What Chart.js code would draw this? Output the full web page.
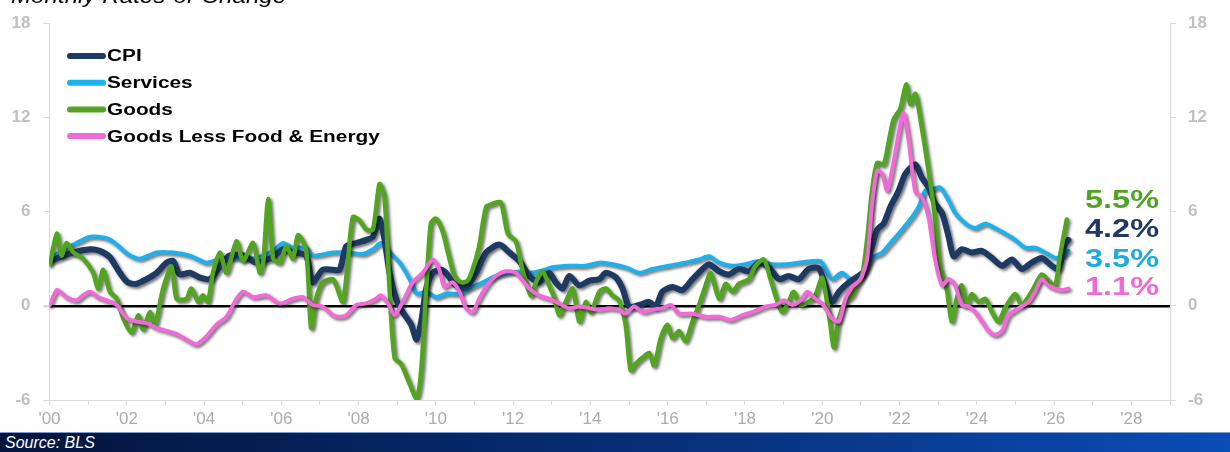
<!DOCTYPE html>
<html>
<head>
<meta charset="utf-8">
<title>CPI Monthly Rates-of-Change</title>
<script src="https://cdn.jsdelivr.net/npm/chart.js@4.4.1/dist/chart.umd.min.js"></script>
<style>
  html, body { margin: 0; padding: 0; background: #fff; overflow: hidden; }
  #wrap { position: relative; width: 1230px; height: 432px; }
  .footer {
    width: 1230px; height: 20px;
    border-top: 1px solid #7d9bcc;
    background: linear-gradient(to right, #04143b 0%, #07307a 55%, #0a4db6 100%);
    color: #fff;
    font: italic 16px "Liberation Sans", Arial, sans-serif;
    line-height: 19px;
    padding-left: 5px;
    box-sizing: border-box;
  }
</style>
</head>
<body>
<div id="wrap"><canvas id="chart"></canvas></div>
<div class="footer">Source: BLS</div>
<script>
document.addEventListener("DOMContentLoaded", function () {
  // Values (decimal years, % change)
  var cpiDates = [
    2000.01, 2000.62, 2001.05, 2001.30, 2001.56, 2001.82, 2002.02, 2002.25, 2002.51, 2002.77,
    2003.03, 2003.20, 2003.37, 2003.63, 2003.89, 2004.15, 2004.41, 2004.66, 2005.03, 2005.35,
    2005.78, 2006.04, 2006.30, 2006.64, 2006.81, 2007.07, 2007.33, 2007.51, 2007.68, 2007.94,
    2008.20, 2008.37, 2008.54, 2008.67, 2008.80, 2008.97, 2009.14, 2009.36, 2009.50, 2009.62,
    2009.75, 2009.92, 2010.13, 2010.26, 2010.52, 2010.78, 2011.04, 2011.30, 2011.64, 2011.90,
    2012.16, 2012.42, 2012.67, 2012.93, 2013.10, 2013.28, 2013.45, 2013.71, 2013.97, 2014.23,
    2014.40, 2014.66, 2014.83, 2015.00, 2015.26, 2015.52, 2015.69, 2015.86, 2016.12, 2016.38,
    2016.64, 2016.90, 2017.07, 2017.33, 2017.58, 2017.84, 2018.10, 2018.36, 2018.62, 2018.88,
    2019.13, 2019.39, 2019.65, 2019.91, 2020.08, 2020.25, 2020.43, 2020.69, 2020.94, 2021.12,
    2021.29, 2021.42, 2021.59, 2021.76, 2021.98, 2022.15, 2022.41, 2022.58, 2022.75, 2022.92,
    2023.10, 2023.27, 2023.40, 2023.61, 2023.87, 2024.13, 2024.39, 2024.65, 2024.91, 2025.16,
    2025.42, 2025.68, 2025.94, 2026.11, 2026.28, 2026.37
  ];
  var cpiValues = [
    2.85, 3.4, 3.6, 3.5, 3.1, 2.1, 1.5, 1.4, 1.7, 2.1,
    2.75, 2.85, 2.0, 2.1, 1.8, 1.7, 2.5, 3.2, 3.2, 2.75,
    3.1, 3.6, 3.4, 3.2, 1.5, 2.3, 2.3, 2.3, 3.8, 4.0,
    4.2, 4.4, 5.55, 4.2, 2.1, 0.45, -0.4, -1.2, -2.15, -1.0,
    1.1, 2.1, 2.3, 2.1, 1.3, 1.2, 2.1, 3.4, 3.9, 3.4,
    2.85, 1.9, 1.5, 2.1, 1.5, 1.1, 1.9, 1.3, 1.6, 1.7,
    2.1, 1.8, 1.1, -0.05, 0.05, 0.25, -0.05, 0.9, 1.2, 1.0,
    1.7, 2.35, 2.65, 2.2, 2.0, 2.35, 2.2, 2.75, 2.45, 1.7,
    1.9, 1.7, 2.35, 2.4, 1.3, 0.25, 0.9, 1.5, 1.9, 2.3,
    3.8, 4.85, 5.25, 6.3, 7.35, 8.4, 9.0, 8.15, 7.55, 6.5,
    5.9, 4.4, 3.15, 3.6, 3.4, 3.5, 3.05, 2.55, 2.95, 2.35,
    2.75, 3.05, 2.55, 2.35, 3.9, 4.2
  ];

  var servicesDates = [
    2000.01, 2000.62, 2001.05, 2001.48, 2001.74, 2002.02, 2002.34, 2002.77, 2003.20, 2003.63,
    2004.06, 2004.49, 2004.92, 2005.35, 2005.78, 2006.04, 2006.30, 2006.64, 2006.81, 2007.33,
    2007.76, 2008.11, 2008.37, 2008.58, 2008.80, 2009.06, 2009.32, 2009.50, 2009.75, 2010.00,
    2010.26, 2010.61, 2010.87, 2011.21, 2011.55, 2011.90, 2012.24, 2012.42, 2012.67, 2013.02,
    2013.45, 2013.88, 2014.23, 2014.57, 2014.91, 2015.26, 2015.60, 2016.03, 2016.46, 2016.81,
    2017.07, 2017.33, 2017.67, 2018.01, 2018.36, 2018.70, 2019.05, 2019.39, 2019.74, 2019.95,
    2020.08, 2020.25, 2020.51, 2020.77, 2021.03, 2021.29, 2021.55, 2021.80, 2022.06, 2022.32,
    2022.49, 2022.67, 2022.88, 2023.05, 2023.27, 2023.44, 2023.70, 2023.96, 2024.22, 2024.47,
    2024.73, 2024.99, 2025.25, 2025.51, 2025.77, 2026.03, 2026.20, 2026.37
  ];
  var servicesValues = [
    3.05, 3.9, 4.4, 4.3, 3.9, 3.3, 3.0, 3.4, 3.4, 3.2,
    2.75, 3.05, 3.0, 3.05, 3.5, 4.0, 3.7, 3.7, 3.2, 3.4,
    3.4, 3.3, 3.6, 4.0, 3.4, 2.75, 1.7, 0.77, 0.9, 0.55,
    0.77, 0.77, 1.1, 1.5, 1.9, 2.1, 2.2, 2.1, 2.2, 2.45,
    2.55, 2.55, 2.75, 2.65, 2.45, 2.1, 2.35, 2.55, 2.75, 2.95,
    3.15, 2.75, 2.55, 2.65, 2.85, 2.65, 2.65, 2.75, 2.85, 2.85,
    2.35, 1.7, 2.1, 1.6, 1.9, 3.05, 3.4, 4.1, 4.85, 5.65,
    6.3, 7.35, 7.45, 7.55, 6.7, 5.9, 5.25, 4.95, 5.25, 4.95,
    4.6, 4.2, 3.7, 3.7, 3.4, 3.05, 3.15, 3.5
  ];

  var goodsDates = [
    2000.01, 2000.19, 2000.31, 2000.44, 2000.62, 2000.87, 2001.13, 2001.26, 2001.39, 2001.56,
    2001.74, 2001.91, 2002.12, 2002.30, 2002.42, 2002.60, 2002.73, 2002.94, 2003.16, 2003.29,
    2003.54, 2003.67, 2003.85, 2003.97, 2004.10, 2004.23, 2004.41, 2004.58, 2004.84, 2005.01,
    2005.27, 2005.44, 2005.53, 2005.66, 2005.79, 2005.96, 2006.13, 2006.30, 2006.43, 2006.64,
    2006.77, 2006.90, 2007.07, 2007.33, 2007.42, 2007.59, 2007.72, 2007.85, 2008.02, 2008.20,
    2008.37, 2008.54, 2008.67, 2008.80, 2008.93, 2009.10, 2009.32, 2009.50, 2009.62, 2009.75,
    2009.87, 2010.00, 2010.18, 2010.31, 2010.48, 2010.65, 2010.82, 2010.95, 2011.12, 2011.30,
    2011.47, 2011.68, 2011.86, 2012.07, 2012.24, 2012.46, 2012.59, 2012.76, 2012.93, 2013.06,
    2013.19, 2013.36, 2013.54, 2013.71, 2013.88, 2014.01, 2014.23, 2014.40, 2014.57, 2014.74,
    2014.91, 2015.04, 2015.17, 2015.35, 2015.52, 2015.65, 2015.82, 2015.99, 2016.12, 2016.29,
    2016.46, 2016.64, 2016.81, 2016.98, 2017.11, 2017.33, 2017.50, 2017.67, 2017.84, 2018.10,
    2018.27, 2018.49, 2018.66, 2018.79, 2018.96, 2019.13, 2019.26, 2019.44, 2019.65, 2019.82,
    2019.99, 2020.08, 2020.21, 2020.30, 2020.43, 2020.60, 2020.77, 2020.90, 2021.03, 2021.16,
    2021.29, 2021.42, 2021.59, 2021.72, 2021.85, 2022.02, 2022.17, 2022.28, 2022.41, 2022.58,
    2022.75, 2022.92, 2023.05, 2023.22, 2023.35, 2023.48, 2023.61, 2023.74, 2023.87, 2024.04,
    2024.22, 2024.39, 2024.56, 2024.73, 2024.99, 2025.16, 2025.42, 2025.68, 2025.85, 2026.03,
    2026.15, 2026.33
  ];
  var goodsValues = [
    2.65, 4.6, 3.2, 4.0, 3.4, 3.0, 2.1, 1.1, 2.3, 0.9,
    0.45, -0.8, -1.7, -0.6, -1.5, -0.4, -1.2, 1.1, 2.5, 0.45,
    0.45, 1.1, 0.25, 0.67, 0.25, 2.1, 3.4, 2.1, 4.1, 2.85,
    4.0, 2.1, 2.75, 6.8, 3.0, 2.75, 3.8, 3.0, 4.5, 3.6,
    -1.4, 0.45, 1.5, 1.7, 1.3, 0.25, 2.75, 5.65, 5.45, 4.85,
    4.85, 7.75, 6.9, 1.1, -3.3, -3.7, -4.95, -5.9, -4.1, 1.1,
    5.25, 5.55, 4.7, 3.4, 1.9, 1.5, 1.6, 2.3, 3.8, 6.3,
    6.5, 6.6, 4.6, 4.1, 2.3, 0.65, 1.5, 2.2, 1.3, 0.55,
    -0.6, 0.25, 1.1, -1.0, 0.25, -0.4, 0.9, 1.1, 0.65, 0.35,
    -1.2, -4.1, -3.7, -3.3, -3.0, -3.8, -2.05, -1.2, -2.05, -1.6,
    -2.25, -1.0, 0.05, 1.3, 2.1, 0.45, 1.4, 0.9, 1.4, 1.7,
    2.55, 2.95, 1.7, 0.65, -0.4, 0.25, 0.9, 0.05, 0.25, 0.65,
    1.8, 0.9, -1.2, -2.65, -0.8, 0.25, 0.65, 1.3, 1.9, 4.2,
    7.35, 9.1, 9.0, 10.45, 11.9, 12.55, 14.1, 12.85, 13.5, 11.3,
    8.6, 5.65, 2.55, 1.1, -1.0, 0.45, 1.3, 0.05, 0.75, 0.25,
    0.45, -0.4, -1.0, -0.15, 0.75, 0.05, 0.9, 2.0, 1.6, 1.3,
    3.15, 5.5
  ];

  var coreGoodsDates = [
    2000.01, 2000.19, 2000.44, 2000.70, 2000.87, 2001.05, 2001.26, 2001.48, 2001.74, 2002.00,
    2002.25, 2002.51, 2002.77, 2003.03, 2003.29, 2003.54, 2003.80, 2004.06, 2004.32, 2004.58,
    2004.84, 2005.01, 2005.27, 2005.61, 2005.96, 2006.30, 2006.56, 2006.81, 2007.07, 2007.33,
    2007.51, 2007.68, 2007.94, 2008.20, 2008.45, 2008.58, 2008.76, 2008.93, 2009.14, 2009.40,
    2009.66, 2009.92, 2010.09, 2010.22, 2010.43, 2010.61, 2010.78, 2010.95, 2011.12, 2011.30,
    2011.55, 2011.81, 2012.07, 2012.42, 2012.67, 2012.93, 2013.19, 2013.45, 2013.71, 2013.97,
    2014.23, 2014.48, 2014.74, 2014.91, 2015.13, 2015.35, 2015.60, 2015.86, 2016.08, 2016.29,
    2016.64, 2016.98, 2017.33, 2017.63, 2017.93, 2018.19, 2018.53, 2018.79, 2019.01, 2019.22,
    2019.44, 2019.61, 2019.82, 2019.99, 2020.08, 2020.25, 2020.43, 2020.60, 2020.77, 2020.99,
    2021.16, 2021.29, 2021.42, 2021.55, 2021.68, 2021.85, 2022.02, 2022.11, 2022.24, 2022.41,
    2022.58, 2022.75, 2022.92, 2023.10, 2023.27, 2023.44, 2023.61, 2023.79, 2023.96, 2024.13,
    2024.30, 2024.47, 2024.65, 2024.82, 2025.08, 2025.34, 2025.51, 2025.68, 2025.85, 2026.03,
    2026.20, 2026.37
  ];
  var coreGoodsValues = [
    0.05, 1.0, 0.55, 0.35, 0.67, 0.9, 0.55, 0.35, 0.05, -0.8,
    -1.0, -1.1, -1.4, -1.6, -1.8, -2.15, -2.45, -1.95, -1.2, -0.7,
    0.45, 0.9, 0.55, 0.67, 0.15, 0.45, 0.55, 0.05, -0.05, -0.6,
    -0.7, -0.6, 0.05, 0.15, 0.45, 0.67, 0.15, -0.6, 0.25, 1.5,
    2.1, 2.95, 2.3, 1.2, 1.5, 0.9, -0.15, -0.4, 0.45, 1.2,
    1.9, 2.2, 2.1, 1.1, 0.65, 0.45, 0.15, -0.15, -0.05, -0.15,
    -0.25, -0.15, -0.25, -0.5, -0.05, -0.4, -0.25, -0.15, 0.05, -0.5,
    -0.5, -0.7, -0.7, -0.9, -0.6, -0.4, -0.05, 0.05, 0.35, 0.05,
    0.35, 0.9, 0.45, 0.15, -0.15, -0.8, -1.0, 0.45, 1.2, 1.7,
    2.95, 6.5, 8.6, 8.4, 7.35, 9.2, 11.5, 12.25, 10.45, 7.25,
    6.9, 5.65, 2.95, 1.3, 1.7, 1.3, 0.05, -0.05, -0.4, -1.0,
    -1.6, -1.85, -1.6, -0.6, -0.15, 0.25, 0.9, 1.7, 1.3, 1.1,
    1.0, 1.1
  ];

  var yTicks = [-6, 0, 6, 12, 18];
  var firstYear = 2000;
  var lastYear = 2029;

  var navy = "#1f3a62";
  var sky = "#1cb0ec";
  var green = "#52a51e";
  var pink = "#f06ad8";

  function points(dates, values) {
    return dates.map(function (d, i) {
      return { x: d, y: values[i] };
    });
  }

  // dark drop shadow under every line
  var shadowPlugin = {
    id: "shadow",
    beforeDatasetDraw: function (chart) {
      var c = chart.ctx;
      c.save();
      c.shadowColor = "rgba(0,0,0,0.55)";
      c.shadowBlur = 3;
      c.shadowOffsetX = 2;
      c.shadowOffsetY = 2;
    },
    afterDatasetDraw: function (chart) {
      chart.ctx.restore();
    },
  };

  // stretched text helper (the reference text is wide)
  function wideText(c, text, x, y, stretch) {
    c.save();
    c.translate(x, y);
    c.scale(stretch, 1);
    c.fillText(text, 0, 0);
    c.restore();
  }

  var decorPlugin = {
    id: "decor",
    afterDraw: function (chart) {
      var c = chart.ctx;
      var area = chart.chartArea;

      // title, cut off by the top edge
      c.save();
      c.fillStyle = "#000";
      c.font = "italic 21px 'Liberation Sans', Arial, sans-serif";
      c.textBaseline = "alphabetic";
      wideText(c, "Monthly Rates-of-Change", 11, 3, 1.15);
      c.restore();

      // legend
      var legendOrder = [0, 1, 2, 3];
      c.save();
      c.font = "bold 16px 'Liberation Sans', Arial, sans-serif";
      c.textBaseline = "middle";
      legendOrder.forEach(function (idx, k) {
        var ds = chart.data.datasets[idx];
        var y = 56 + k * 26.7;
        c.strokeStyle = ds.borderColor;
        c.lineWidth = 6;
        c.lineCap = "round";
        c.beginPath();
        c.moveTo(70, y);
        c.lineTo(103, y);
        c.stroke();
        c.fillStyle = "#000";
        wideText(c, ds.label, 107, y + 1, 1.3);
      });
      c.restore();

      // latest values, stacked at the right
      var endOrder = [2, 0, 1, 3];
      var endY = [201, 230, 260, 288];
      c.save();
      c.font = "bold 25px 'Liberation Sans', Arial, sans-serif";
      c.textBaseline = "middle";
      endOrder.forEach(function (idx, k) {
        var ds = chart.data.datasets[idx];
        var last = ds.data[ds.data.length - 1].y;
        c.fillStyle = ds.labelColor;
        wideText(c, last.toFixed(1) + "%", area.right - 85, endY[k], 1.3);
      });
      c.restore();
    },
  };

  var tickFont = { family: "'Liberation Sans', Arial, sans-serif", size: 17, weight: "bold" };
  var axisGray = "#d9d9d9";

  var ctx = document.getElementById("chart").getContext("2d");
  var chart = new Chart(ctx, {
    type: "line",
    data: {
      datasets: [
        {
          label: "CPI",
          data: points(cpiDates, cpiValues),
          borderColor: navy,
          labelColor: "#1f3864",
          borderWidth: 6,
          order: 2,
        },
        {
          label: "Services",
          data: points(servicesDates, servicesValues),
          borderColor: sky,
          labelColor: "#1ea9e2",
          borderWidth: 4,
          order: 3,
        },
        {
          label: "Goods",
          data: points(goodsDates, goodsValues),
          borderColor: green,
          labelColor: "#4ea322",
          borderWidth: 4.5,
          order: 1,
        },
        {
          label: "Goods Less Food & Energy",
          data: points(coreGoodsDates, coreGoodsValues),
          borderColor: pink,
          labelColor: "#ef68d6",
          borderWidth: 4,
          order: 0,
        },
      ],
    },
    options: {
      responsive: true,
      maintainAspectRatio: false,
      animation: false,
      layout: { padding: { top: 17, left: 0, right: 0, bottom: 0 } },
      elements: {
        point: { radius: 0 },
        line: { tension: 0.25, borderJoinStyle: "round", borderCapStyle: "round" },
      },
      plugins: {
        legend: { display: false },
        tooltip: { enabled: false },
      },
      scales: {
        x: {
          type: "linear",
          min: firstYear,
          max: lastYear,
          afterFit: function (scale) { scale.height = 32; },
          ticks: {
            stepSize: 1,
            autoSkip: false,
            maxRotation: 0,
            padding: 4,
            color: "#ababab",
            font: { family: "'Liberation Sans', Arial, sans-serif", size: 17 },
            callback: function (v) {
              return v % 2 === 0 ? "'" + String(v).slice(2) : "";
            },
          },
          grid: { drawOnChartArea: false, tickLength: 5, color: axisGray },
          border: { color: axisGray },
        },
        y: {
          position: "left",
          min: yTicks[0],
          max: yTicks[yTicks.length - 1],
          afterFit: function (scale) { scale.width = 49.5; },
          afterBuildTicks: function (scale) {
            scale.ticks = yTicks.map(function (v) { return { value: v }; });
          },
          ticks: { color: "#c0c0c0", font: tickFont, padding: 13 },
          grid: {
            color: function (c) { return c.tick && c.tick.value === 0 ? "#000" : "rgba(0,0,0,0)"; },
            lineWidth: function (c) { return c.tick && c.tick.value === 0 ? 2.5 : 1; },
            tickColor: axisGray,
            tickLength: 6,
          },
          border: { color: axisGray },
        },
        y2: {
          position: "right",
          min: yTicks[0],
          max: yTicks[yTicks.length - 1],
          afterFit: function (scale) { scale.width = 60; },
          afterBuildTicks: function (scale) {
            scale.ticks = yTicks.map(function (v) { return { value: v }; });
          },
          ticks: { color: "#c0c0c0", font: tickFont, padding: 12 },
          grid: { drawOnChartArea: false, tickColor: axisGray, tickLength: 6 },
          border: { color: axisGray },
        },
      },
    },
    plugins: [shadowPlugin, decorPlugin],
  });
});
</script>
</body>
</html>
